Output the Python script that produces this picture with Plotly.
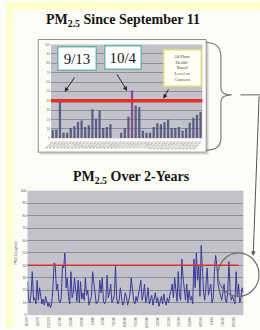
import plotly.graph_objects as go
import pandas as pd

W, H = 260, 330

# ---------------- data ----------------
top_days = ["9/11/01", "9/12/01", "9/13/01", "9/14/01", "9/15/01", "9/16/01", "9/17/01",
            "9/18/01", "9/19/01", "9/20/01", "9/21/01", "9/22/01", "9/23/01", "9/24/01",
            "9/25/01", "9/26/01", "9/27/01", "9/28/01", "9/29/01", "9/30/01", "10/1/01",
            "10/2/01", "10/3/01", "10/4/01", "10/5/01", "10/6/01", "10/7/01", "10/8/01",
            "10/9/01", "10/10/01", "10/11/01", "10/12/01", "10/13/01", "10/14/01", "10/15/01",
            "10/16/01", "10/17/01", "10/18/01", "10/19/01", "10/20/01", "10/21/01", "10/22/01"]
top_pm = [9, 9.5, 42, 6, 6, 11, 13, 17.5, 19, 12, 14, 31, 21, 30, 11, 12, 15,
          None, None,
          6, 11, 23, 51, 35, 33, 8, 6, 6, 12, 16, 15, 17, 20, 11, 11, 12, 8, 10.5,
          16.5, 22, 25, 28]

bottom_pm = [27, 12, 10, 18, 35, 12, 14, 9, 28, 12,
             22, 15, 9, 13, 8, 15, 11, 7, 10, 6,
             9, 20, 42, 41, 20, 25, 12, 10, 14, 40,
             38, 50, 22, 30, 15, 9, 35, 14, 18, 30,
             20, 11, 28, 10, 27, 13, 18, 12, 30, 16,
             20, 8, 12, 15, 35, 25, 14, 9, 10, 13,
             28, 18, 30, 11, 9, 12, 32, 14, 18, 25,
             10, 12, 16, 40, 13, 9, 12, 22, 14, 8,
             10, 18, 15, 8, 12, 17, 30, 20, 12, 9,
             15, 11, 18, 25, 28, 12, 16, 25, 10, 14,
             22, 9, 13, 16, 8, 12, 18, 10, 14, 7,
             12, 15, 9, 17, 11, 8, 14, 10, 16, 19,
             25, 14, 30, 20, 11, 35, 15, 12, 45, 30,
             17, 12, 25, 10, 20, 12, 15, 9, 45, 22,
             50, 28, 40, 15, 56, 35, 18, 12, 30, 38,
             16, 20, 25, 10, 14, 35, 48, 40, 25, 20,
             15, 12, 18, 25, 13, 10, 18, 43, 20, 12,
             15, 12, 9, 35, 15, 25, 10, 14, 22, 18]
bottom_start = "1999-10-01"
bottom_tick_text = ["10/1/99", "11/6/99", "12/12/99", "1/17/00", "2/22/00", "3/29/00",
                    "5/4/00", "6/9/00", "7/15/00", "8/20/00", "9/25/00", "10/31/00",
                    "12/6/00", "1/11/01", "2/16/01", "3/24/01", "4/29/01", "6/4/01",
                    "7/10/01", "8/15/01"]
threshold = 40
y_ticks = [0, 10, 20, 30, 40, 50, 60, 70, 80, 90, 100]

bottom_dates = pd.date_range(bottom_start, periods=len(bottom_pm), freq="4D")
bottom_tickvals = pd.date_range(bottom_start, periods=len(bottom_tick_text), freq="36D")


def px(x):
    return x / W


def py(y):
    return 1 - y / H


BAR = "#5C5C84"
bar_colors = [BAR] * len(top_pm)
bar_colors[22] = "#8A4E90"

PLOT_BG = "#C2C2CA"
GRID = "#8E8E96"
TICKF = dict(family="Liberation Sans", size=3, color="#555555")

fig = go.Figure()
fig.add_bar(x=top_days, y=top_pm, marker=dict(color=bar_colors, line=dict(width=0)),
            width=0.62, xaxis="x", yaxis="y")
fig.add_scatter(x=bottom_dates, y=bottom_pm, mode="lines",
                line=dict(color="#3C3A98", width=1), xaxis="x2", yaxis="y2")

shapes = [
    # yellow slide strips
    dict(type="rect", xref="paper", yref="paper", x0=0, x1=px(7), y0=0, y1=1,
         fillcolor="#FFFFCC", line=dict(width=0), layer="below"),
    dict(type="rect", xref="paper", yref="paper", x0=0, x1=1, y0=py(8), y1=1,
         fillcolor="#FFFFCC", line=dict(width=0), layer="below"),
    # frame of top chart and its shadow
    dict(type="rect", xref="paper", yref="paper", x0=px(33), x1=px(205), y0=py(152), y1=py(38),
         line=dict(color="#8A8A8A", width=1)),
    dict(type="path", xref="paper", yref="paper",
         path=f"M {px(35)},{py(153.5)} L {px(206.5)},{py(153.5)} L {px(206.5)},{py(40)}",
         line=dict(color="#D0D0D0", width=1.5)),
    # brace
    dict(type="path", xref="paper", yref="paper",
         path=(f"M {px(205)},{py(41)} Q {px(220)},{py(41)} {px(220)},{py(56)} "
               f"L {px(220)},{py(87)} Q {px(220)},{py(94)} {px(231)},{py(94)} "
               f"Q {px(220)},{py(94)} {px(220)},{py(101)} "
               f"L {px(220)},{py(138)} Q {px(220)},{py(150)} {px(205)},{py(150)}"),
         line=dict(color="#7A7A7A", width=1.2)),
    dict(type="line", xref="paper", yref="paper", x0=px(240), x1=px(261), y0=py(94), y1=py(94),
         line=dict(color="#7A7A7A", width=1.2)),
    # circle on bottom chart
    dict(type="circle", xref="paper", yref="paper", x0=px(217), x1=px(259), y0=py(298), y1=py(254),
         line=dict(color="#6E6E6E", width=1.2)),
    # threshold lines
    dict(type="line", xref="x domain", yref="y", x0=0, x1=1, y0=threshold, y1=threshold,
         line=dict(color="#E0302C", width=3.5)),
    dict(type="line", xref="x2 domain", yref="y2", x0=0, x1=0.977, y0=threshold, y1=threshold,
         line=dict(color="#D8302C", width=1.5)),
]

SERIF = "Liberation Serif"
C = dict(xref="paper", yref="paper", xanchor="center", yanchor="middle", showarrow=False)
annotations = [
    dict(C, x=px(120), y=py(19), text="<b>PM<sub>2.5</sub> Since September 11</b>",
         font=dict(family=SERIF, size=14, color="#151515")),
    dict(C, x=px(128), y=py(178), text="<b>PM<sub>2.5</sub> Over 2-Years</b>",
         font=dict(family=SERIF, size=14, color="#151515")),
    dict(C, x=px(72.5), y=py(57), text="9/13",
         font=dict(family=SERIF, size=15, color="#1A1A1A"), bgcolor="#FFFFFF",
         bordercolor="#6CB4AC", borderwidth=1.5, borderpad=1, width=35, height=20),
    dict(C, x=px(120), y=py(56), text="10/4",
         font=dict(family=SERIF, size=15, color="#1A1A1A"), bgcolor="#FFFFFF",
         bordercolor="#6CB4AC", borderwidth=1.5, borderpad=1, width=33, height=20),
    dict(C, x=px(181), y=py(66.5),
         text="24-Hour<br>Health-<br>Based<br>Level of<br>Concern",
         font=dict(family=SERIF, size=4.5, color="#444444"), bgcolor="#FFFFF4",
         bordercolor="#E4DC78", borderwidth=1.5, borderpad=1, width=34, height=33),
]
arrows = [((60, 91), (71, 75), "#2A2A2A"), ((124, 90), (113, 72), "#2A2A2A"),
          ((161, 98), (167, 87), "#2A2A2A"), ((253, 257), (259, 96), "#555555")]
for (hx, hy), (tx, ty), c in arrows:
    annotations.append(dict(x=px(hx), y=py(hy), xref="paper", yref="paper", text="",
                            showarrow=True, ax=tx - hx, ay=ty - hy, arrowhead=2,
                            arrowsize=0.9, arrowwidth=1, arrowcolor=c))

fig.update_layout(
    width=W, height=H, margin=dict(l=0, r=0, t=0, b=0),
    paper_bgcolor="#FDFDF8", plot_bgcolor=PLOT_BG, showlegend=False,
    bargap=0.3,
    xaxis=dict(domain=[px(46), px(201)], type="category", tickmode="linear", dtick=1,
               tickangle=-45, tickfont=dict(family="Liberation Sans", size=3, color="#666666"),
               showgrid=False, zeroline=False, showline=False, ticks=""),
    yaxis=dict(domain=[py(138), py(43)], range=[0, 100], tickvals=y_ticks,
               tickfont=dict(family="Liberation Sans", size=3, color="#666666"),
               gridcolor=GRID, gridwidth=0.8, zeroline=False, showline=False),
    xaxis2=dict(domain=[px(22), px(243)], anchor="y2", type="date",
                range=[bottom_dates[0], bottom_dates[-1]],
                tickvals=bottom_tickvals, ticktext=bottom_tick_text, tickangle=-90,
                tickfont=TICKF, showgrid=False, zeroline=False, showline=False, ticks=""),
    yaxis2=dict(domain=[py(317), py(191)], anchor="x2", range=[0, 100], tickvals=y_ticks,
                tickfont=dict(family="Liberation Sans", size=3.5, color="#555555"),
                gridcolor=GRID, gridwidth=0.8, zeroline=False, showline=False,
                title=dict(text="PM2.5 (ug/m3)", font=dict(family="Liberation Sans", size=3.5,
                                                          color="#555555"), standoff=3)),
    shapes=shapes, annotations=annotations,
)

fig.write_html("out.html", config={"displayModeBar": False},
               post_script="document.body.style.margin='0';document.body.style.overflow='hidden';")
